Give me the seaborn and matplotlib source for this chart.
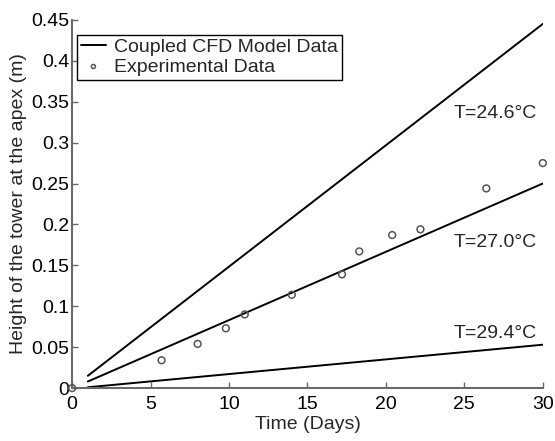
import matplotlib
matplotlib.use("Agg")
import matplotlib.pyplot as plt
import matplotlib.ticker as mticker
import seaborn as sns
import pandas as pd

# Model lines (start day, end day) and heights
line_days = [1, 30]
h_246 = [0.015, 0.445]
h_270 = [0.008, 0.250]
h_294 = [0.001, 0.053]
line_labels = ["T=24.6°C", "T=27.0°C", "T=29.4°C"]

# Experimental data
exp_days = [0, 5.7, 8.0, 9.8, 11.0, 14.0, 17.2, 18.3, 20.4, 22.2, 26.4, 30.0]
exp_height = [0.0, 0.034, 0.054, 0.073, 0.090, 0.114, 0.139, 0.167, 0.187, 0.194, 0.244, 0.275]

sns.set_theme(style="ticks")
plt.rcParams['font.family'] = ['Liberation Sans', 'DejaVu Sans']

FS = 14
fig = plt.figure(figsize=(5.55, 4.41), dpi=100)
ax = fig.add_axes([0.130, 0.120, 0.848, 0.835])

gray = "#6a6a6a"
series = [h_246, h_270, h_294]
for i, h in enumerate(series):
    df = pd.DataFrame({"day": line_days, "h": h})
    sns.lineplot(data=df, x="day", y="h", ax=ax, color="black", lw=1.4,
                 label="Coupled CFD Model Data" if i == 0 else None, legend=False)

dfe = pd.DataFrame({"day": exp_days, "h": exp_height})
sns.scatterplot(data=dfe, x="day", y="h", ax=ax, marker="o", s=24,
                facecolor="none", edgecolor="#555555", linewidth=1.1,
                label="Experimental Data", legend=False, clip_on=False, zorder=5)

# annotations
ax.text(29.6, 0.336, line_labels[0], ha="right", va="center", fontsize=FS)
ax.text(29.6, 0.178, line_labels[1], ha="right", va="center", fontsize=FS)
ax.text(29.6, 0.067, line_labels[2], ha="right", va="center", fontsize=FS)

ax.set_xlim(0, 30)
ax.set_ylim(0, 0.45)
ax.set_xticks([0, 5, 10, 15, 20, 25, 30])
ax.set_yticks([0, 0.05, 0.1, 0.15, 0.2, 0.25, 0.3, 0.35, 0.4, 0.45])
ax.yaxis.set_major_formatter(mticker.FormatStrFormatter('%g'))
ax.xaxis.set_major_formatter(mticker.FormatStrFormatter('%g'))

ax.set_xlabel("Time (Days)", fontsize=FS, labelpad=2)
ax.set_ylabel("Height of the tower at the apex (m)", fontsize=FS, labelpad=3)

for s in ["top", "right"]:
    ax.spines[s].set_visible(False)
for s in ["left", "bottom"]:
    ax.spines[s].set_color(gray)
    ax.spines[s].set_linewidth(1.5)
ax.tick_params(direction="in", length=4, width=1, color=gray, labelsize=FS,
               labelcolor="black")
ax.tick_params(axis="x", pad=6)
ax.tick_params(axis="y", pad=2)

handles, labels = ax.get_legend_handles_labels()
leg = ax.legend(handles, labels, loc="upper left", bbox_to_anchor=(0.01, 0.96),
                fontsize=FS, frameon=True, fancybox=False, edgecolor="black",
                handlelength=1.3, handletextpad=0.4, borderpad=0.2,
                labelspacing=0.1, borderaxespad=0.0, markerscale=0.6)
leg.get_frame().set_linewidth(1.0)
leg.get_frame().set_alpha(1)

fig.savefig("out.png", dpi=100)
